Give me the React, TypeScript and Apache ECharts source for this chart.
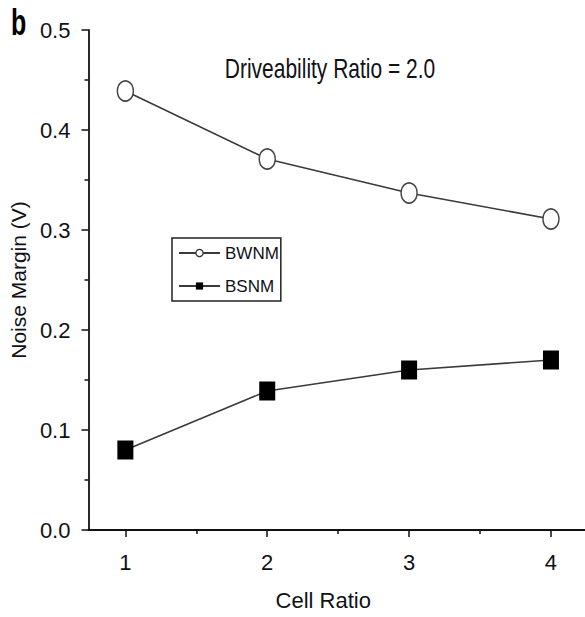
import React, { useEffect, useRef } from "react";
import * as echarts from "echarts";

const cellRatio = [1, 2, 3, 4];
const bwnm = [0.439, 0.371, 0.337, 0.311];
const bsnm = [0.08, 0.139, 0.16, 0.17];
const majorXTicks = [1, 2, 3, 4];
const minorXTicks = [1.5, 2.5, 3.5];

const FONT = "'Liberation Sans', Arial, sans-serif";
const TXT = "#111118";

export default function App() {
  const ref = useRef<HTMLDivElement>(null);
  useEffect(() => {
    if (!ref.current) return;
    const chart = echarts.init(ref.current, undefined, { renderer: "svg" });
    chart.setOption({
      animation: false,
      backgroundColor: "#ffffff",
      grid: { left: 88, top: 30, bottom: 87, right: 0, containLabel: false },
      graphic: [
        {
          type: "text",
          x: 11,
          y: 22,
          scaleY: 1.48,
          style: {
            text: "b",
            x: 0,
            y: 0,
            textAlign: "left",
            textVerticalAlign: "middle",
            font: `bold 25px ${FONT}`,
            fill: "#000",
          },
        },
        {
          type: "text",
          x: 330,
          y: 68,
          scaleY: 1.33,
          style: {
            text: "Driveability Ratio = 2.0",
            x: 0,
            y: 0,
            textAlign: "center",
            textVerticalAlign: "middle",
            font: `21px ${FONT}`,
            fill: TXT,
          },
        },
      ],
      legend: {
        left: 172,
        top: 238,
        orient: "vertical",
        itemWidth: 41,
        itemHeight: 9,
        itemGap: 13,
        padding: [5, 2, 5, 6],
        borderColor: "#222",
        borderWidth: 1.5,
        textStyle: { fontFamily: FONT, fontSize: 17, color: TXT, lineHeight: 20 },
        data: [
          { name: "BWNM", itemStyle: { color: "#fff", borderColor: "#333", borderWidth: 1.2 } },
          { name: "BSNM" },
        ],
      },
      xAxis: [
        {
          type: "value",
          min: 0.74,
          max: 4.24,
          name: "Cell Ratio",
          nameLocation: "middle",
          nameGap: 59,
          nameTextStyle: { fontFamily: FONT, fontSize: 22, color: TXT, padding: [0, 27, 0, 0] },
          axisLine: { lineStyle: { color: "#111", width: 1.8 } },
          axisTick: { customValues: majorXTicks, length: 7, lineStyle: { color: "#111", width: 1.5 } },
          axisLabel: {
            customValues: majorXTicks,
            fontFamily: FONT,
            fontSize: 22,
            color: TXT,
            margin: 21,
          },
          splitLine: { show: false },
        },
        {
          type: "value",
          min: 0.74,
          max: 4.24,
          position: "bottom",
          axisLine: { show: false },
          axisTick: { customValues: minorXTicks, length: 4, lineStyle: { color: "#111", width: 1.5 } },
          axisLabel: { show: false },
          splitLine: { show: false },
        },
      ],
      yAxis: {
        type: "value",
        min: 0,
        max: 0.5,
        interval: 0.1,
        name: "Noise Margin (V)",
        nameLocation: "middle",
        nameGap: 54,
        nameTextStyle: { fontFamily: FONT, fontSize: 21, color: TXT },
        axisLine: { show: true, lineStyle: { color: "#111", width: 1.8 } },
        axisTick: { show: true, length: 7, lineStyle: { color: "#111", width: 1.5 } },
        minorTick: { show: true, splitNumber: 2, length: 4, lineStyle: { color: "#111", width: 1.5 } },
        axisLabel: {
          fontFamily: FONT,
          fontSize: 22,
          color: TXT,
          margin: 18,
          formatter: (v: number) => v.toFixed(1),
        },
        splitLine: { show: false },
      },
      series: [
        {
          name: "BWNM",
          type: "line",
          data: cellRatio.map((x, i) => [x, bwnm[i]]),
          symbol: "circle",
          symbolSize: [16, 20],
          lineStyle: { color: "#3a3a3a", width: 1.6 },
          itemStyle: { color: "#fff", borderColor: "#444", borderWidth: 1.6 },
          z: 3,
        },
        {
          name: "BSNM",
          type: "line",
          data: cellRatio.map((x, i) => [x, bsnm[i]]),
          symbol: "rect",
          symbolSize: [16, 19],
          lineStyle: { color: "#3a3a3a", width: 1.6 },
          itemStyle: { color: "#000" },
          z: 3,
        },
      ],
    });
    return () => chart.dispose();
  }, []);
  return <div ref={ref} style={{ width: 585, height: 617, position: "absolute", left: 0, top: 0 }} />;
}
